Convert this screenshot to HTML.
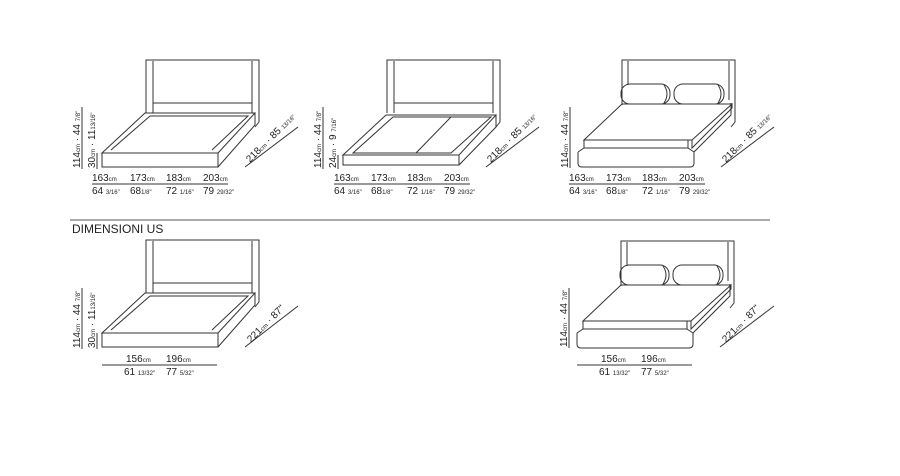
<!DOCTYPE html>
<html><head><meta charset="utf-8"><style>
html,body{margin:0;padding:0;background:#fff}
svg{display:block}
text{font-family:"Liberation Sans",sans-serif;fill:#222}
.c{font-size:10px}.s{font-size:6px}
</style></head><body>
<svg width="900" height="476" viewBox="0 0 900 476" xmlns="http://www.w3.org/2000/svg">
<defs>
<g id="frame" fill="none" stroke="#333" stroke-width="1">
  <path d="M146,113 L146,60 L259,60 L259,122 L255,127"/>
  <path d="M153,113 L153,61 M252,61 L252,113 M153,103 L252,103"/>
  <path d="M102,153 L145,113 L255,113 L218,153 Z"/>
  <path d="M111,150 L150,116 L248,116 L212,150"/>
  <rect x="102" y="153" width="116" height="14"/>
  <path d="M218,167 L255,125 L255,113"/>
</g>
<g id="pillowbed" fill="none" stroke="#333" stroke-width="1">
  <path d="M146,105 L146,60 L259,60 L259,122 L255,127"/>
  <path d="M152,61 L152,85 M253,61 L253,100"/>
  <path d="M102,152 L102,163 Q102,167 106,167 L214,167 Q218,167 218,163 L218,152 L255,115 L255,103"/>
  <path d="M102,152 L108,148 M218,152 L212,148"/>
  <path d="M108,140 L146,104 L256,104 L216,140 Z"/>
  <path d="M108,140 L108,148 L212,148 L212,140 M216,140 L216,148 L256,108 L256,104"/>
  <rect x="145" y="84" width="49" height="20" rx="9"/>
  <path d="M188,85 Q194,94 188,103"/>
  <rect x="198" y="84" width="50" height="20" rx="9"/>
  <path d="M242,85 Q248,94 242,103"/>
</g>
</defs>

<!-- Row 1 bed 1 -->
<use href="#frame"/>
<line x1="82" y1="107" x2="82" y2="169" stroke="#333"/>
<line x1="97" y1="153" x2="97" y2="169" stroke="#333"/>
<text class="c" transform="translate(80,168) rotate(-90)">114<tspan class="s">cm</tspan> · 44 <tspan class="s">7/8"</tspan></text>
<text class="c" transform="translate(95,168) rotate(-90)">30<tspan class="s">cm</tspan> · 11<tspan class="s">13/16"</tspan></text>
<line x1="245" y1="167" x2="298" y2="127" stroke="#333"/>
<text class="c" transform="translate(250,163) rotate(-45)">218<tspan class="s">cm</tspan> · 85 <tspan class="s">13/16"</tspan></text>
<text class="c" x="92" y="181">163<tspan class="s">cm</tspan></text>
<text class="c" x="130" y="181">173<tspan class="s">cm</tspan></text>
<text class="c" x="166" y="181">183<tspan class="s">cm</tspan></text>
<text class="c" x="203" y="181">203<tspan class="s">cm</tspan></text>
<line x1="92" y1="184" x2="228" y2="184" stroke="#333"/>
<text class="c" x="92" y="194">64 <tspan class="s">3/16"</tspan></text>
<text class="c" x="130" y="194">68<tspan class="s">1/8"</tspan></text>
<text class="c" x="166" y="194">72 <tspan class="s">1/16"</tspan></text>
<text class="c" x="203" y="194">79 <tspan class="s">29/32"</tspan></text>

<!-- Row 1 bed 2 (slatted) -->
<g transform="translate(241,0)" fill="none" stroke="#333">
  <path d="M146,113 L146,60 L259,60 L259,122 L255,127"/>
  <path d="M153,113 L153,61 M252,61 L252,113 M153,103 L252,103"/>
  <path d="M102,155 L145,115 L255,115 L218,155 Z"/>
  <path d="M112,153 L152,117 L250,117 L210,153 Z"/>
  <path d="M175,153 L210,117"/>
  <rect x="102" y="155" width="116" height="10"/>
  <path d="M218,165 L255,127 L255,115"/>
</g>
<line x1="323" y1="107" x2="323" y2="169" stroke="#333"/>
<line x1="338" y1="155" x2="338" y2="169" stroke="#333"/>
<text class="c" transform="translate(321,168) rotate(-90)">114<tspan class="s">cm</tspan> · 44 <tspan class="s">7/8"</tspan></text>
<text class="c" transform="translate(336,168) rotate(-90)">24<tspan class="s">cm</tspan> · 9 <tspan class="s">7/16"</tspan></text>
<line x1="486" y1="167" x2="539" y2="127" stroke="#333"/>
<text class="c" transform="translate(491,163) rotate(-45)">218<tspan class="s">cm</tspan> · 85 <tspan class="s">13/16"</tspan></text>
<text class="c" x="334" y="181">163<tspan class="s">cm</tspan></text>
<text class="c" x="371" y="181">173<tspan class="s">cm</tspan></text>
<text class="c" x="407" y="181">183<tspan class="s">cm</tspan></text>
<text class="c" x="444" y="181">203<tspan class="s">cm</tspan></text>
<line x1="334" y1="184" x2="470" y2="184" stroke="#333"/>
<text class="c" x="334" y="194">64 <tspan class="s">3/16"</tspan></text>
<text class="c" x="371" y="194">68<tspan class="s">1/8"</tspan></text>
<text class="c" x="407" y="194">72 <tspan class="s">1/16"</tspan></text>
<text class="c" x="444" y="194">79 <tspan class="s">29/32"</tspan></text>

<!-- Row 1 bed 3 -->
<use href="#pillowbed" transform="translate(476,0)"/>
<line x1="570" y1="107" x2="570" y2="168" stroke="#333"/>
<text class="c" transform="translate(568,168) rotate(-90)">114<tspan class="s">cm</tspan> · 44 <tspan class="s">7/8"</tspan></text>
<line x1="721" y1="167" x2="774" y2="127" stroke="#333"/>
<text class="c" transform="translate(726,163) rotate(-45)">218<tspan class="s">cm</tspan> · 85 <tspan class="s">13/16"</tspan></text>
<text class="c" x="569" y="181">163<tspan class="s">cm</tspan></text>
<text class="c" x="606" y="181">173<tspan class="s">cm</tspan></text>
<text class="c" x="642" y="181">183<tspan class="s">cm</tspan></text>
<text class="c" x="679" y="181">203<tspan class="s">cm</tspan></text>
<line x1="569" y1="184" x2="705" y2="184" stroke="#333"/>
<text class="c" x="569" y="194">64 <tspan class="s">3/16"</tspan></text>
<text class="c" x="606" y="194">68<tspan class="s">1/8"</tspan></text>
<text class="c" x="642" y="194">72 <tspan class="s">1/16"</tspan></text>
<text class="c" x="679" y="194">79 <tspan class="s">29/32"</tspan></text>

<!-- separator -->
<line x1="70" y1="220" x2="770" y2="220" stroke="#555"/>
<text x="72" y="233" style="font-size:12px">DIMENSIONI US</text>

<!-- Row 2 bed 1 -->
<use href="#frame" transform="translate(0,180)"/>
<line x1="82" y1="288" x2="82" y2="349" stroke="#333"/>
<line x1="97" y1="333" x2="97" y2="349" stroke="#333"/>
<text class="c" transform="translate(80,348) rotate(-90)">114<tspan class="s">cm</tspan> · 44 <tspan class="s">7/8"</tspan></text>
<text class="c" transform="translate(95,348) rotate(-90)">30<tspan class="s">cm</tspan> · 11<tspan class="s">13/16"</tspan></text>
<line x1="245" y1="347" x2="298" y2="306" stroke="#333"/>
<text class="c" transform="translate(251,343) rotate(-45)">221<tspan class="s">cm</tspan> · 87"</text>
<text class="c" x="126" y="362">156<tspan class="s">cm</tspan></text>
<text class="c" x="166" y="362">196<tspan class="s">cm</tspan></text>
<line x1="102" y1="365" x2="217" y2="365" stroke="#333"/>
<text class="c" x="124" y="375">61 <tspan class="s">13/32"</tspan></text>
<text class="c" x="166" y="375">77 <tspan class="s">5/32"</tspan></text>

<!-- Row 2 bed 2 -->
<use href="#pillowbed" transform="translate(475,181)"/>
<line x1="569" y1="288" x2="569" y2="348" stroke="#333"/>
<text class="c" transform="translate(567,347) rotate(-90)">114<tspan class="s">cm</tspan> · 44 <tspan class="s">7/8"</tspan></text>
<line x1="720" y1="347" x2="774" y2="306" stroke="#333"/>
<text class="c" transform="translate(726,343) rotate(-45)">221<tspan class="s">cm</tspan> · 87"</text>
<text class="c" x="601" y="362">156<tspan class="s">cm</tspan></text>
<text class="c" x="641" y="362">196<tspan class="s">cm</tspan></text>
<line x1="577" y1="365" x2="692" y2="365" stroke="#333"/>
<text class="c" x="599" y="375">61 <tspan class="s">13/32"</tspan></text>
<text class="c" x="641" y="375">77 <tspan class="s">5/32"</tspan></text>
</svg>
</body></html>
